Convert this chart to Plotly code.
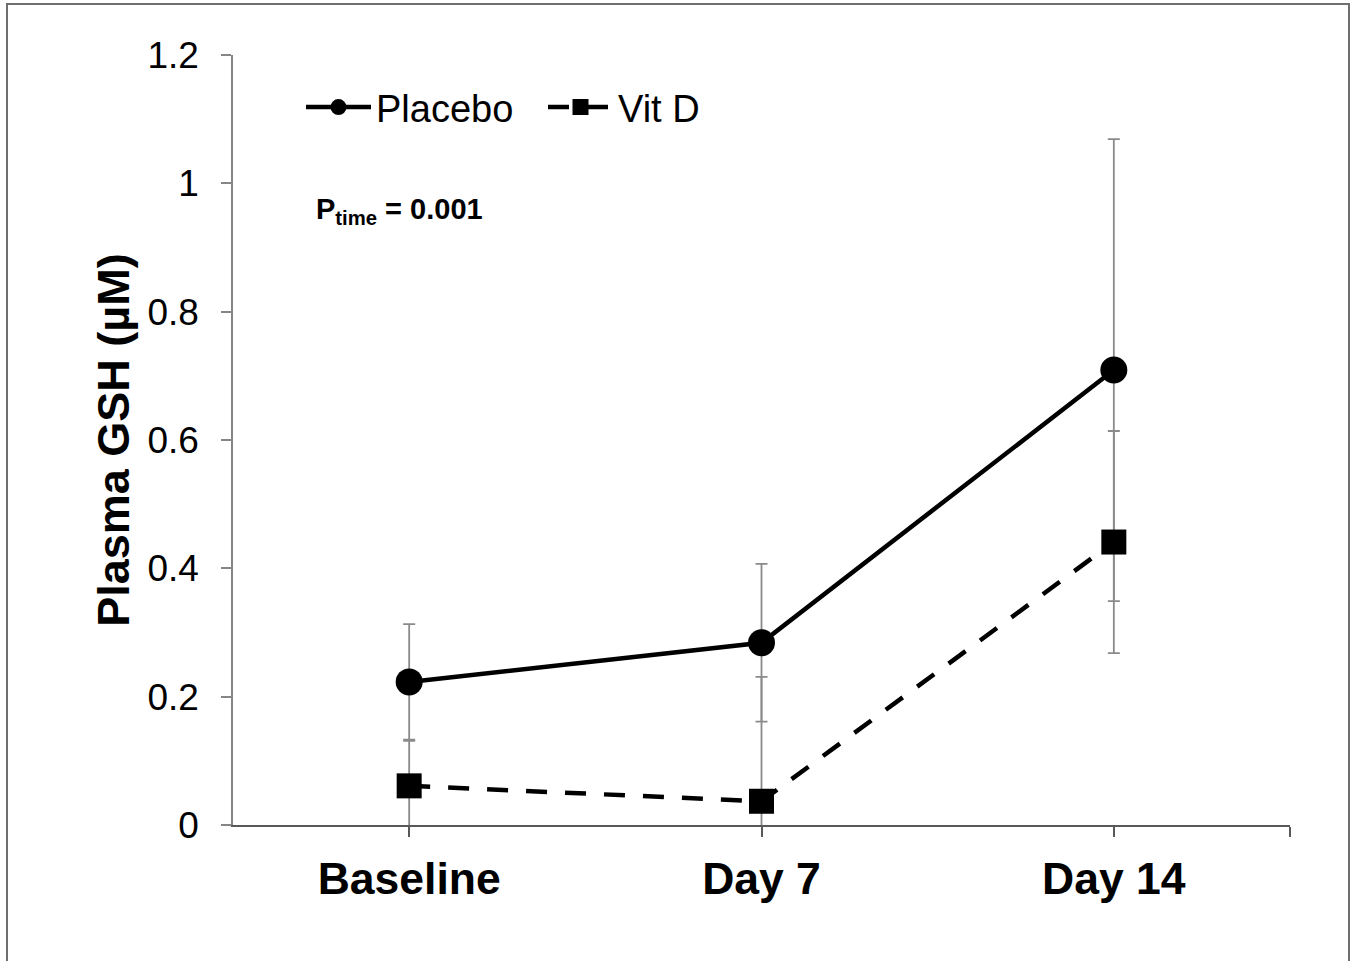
import plotly.graph_objects as go

# ---- data ----
categories = ["Baseline", "Day 7", "Day 14"]
placebo_mean = [0.223, 0.284, 0.709]
placebo_err = [0.090, 0.123, 0.360]
vitd_mean = [0.061, 0.037, 0.441]
vitd_err = [0.070, 0.194, 0.173]
y_tickvals = [0, 0.2, 0.4, 0.6, 0.8, 1.0, 1.2]
y_ticktext = ["0", "0.2", "0.4", "0.6", "0.8", "1", "1.2"]

x_pos = list(range(len(categories)))
FONT = "Liberation Sans, Arial, sans-serif"
ERR_COLOR = "#8a8a8a"

fig = go.Figure()

fig.add_trace(go.Scatter(
    x=x_pos, y=placebo_mean, name="Placebo", mode="lines+markers",
    line=dict(color="black", width=4.5),
    marker=dict(symbol="circle", size=27, color="black"),
    error_y=dict(type="data", array=placebo_err, visible=True,
                 color=ERR_COLOR, thickness=1.8, width=6),
))
fig.add_trace(go.Scatter(
    x=x_pos, y=vitd_mean, name="Vit D", mode="lines+markers",
    line=dict(color="black", width=4.5, dash="21px,18px"),
    marker=dict(symbol="square", size=25, color="black"),
    error_y=dict(type="data", array=vitd_err, visible=True,
                 color=ERR_COLOR, thickness=1.8, width=6),
))

L, R, T, B = 233, 1290, 55, 825
W, H = 1357, 961

fig.update_layout(
    width=W, height=H,
    margin=dict(l=L, r=W - R, t=T, b=H - B, pad=0),
    paper_bgcolor="white", plot_bgcolor="white",
    font=dict(family=FONT, color="black"),
    showlegend=True,
    legend=dict(
        orientation="h", x=(301 - L) / (R - L), y=0.932,
        xanchor="left", yanchor="middle",
        font=dict(size=38, family=FONT, color="black"),
        bgcolor="rgba(0,0,0,0)", itemwidth=65, tracegroupgap=0,
        entrywidth=162, entrywidthmode="pixels",
    ),
    xaxis=dict(
        range=[-0.5, 2.5],
        tickmode="array",
        tickvals=x_pos,
        ticktext=categories,
        tickfont=dict(size=44.5, family=FONT, color="black", weight="bold"),
        ticks="outside", ticklen=10, tickwidth=2, tickcolor="#595959",
        minor=dict(tickvals=[2.5], ticks="outside", ticklen=10,
                   tickwidth=2, tickcolor="#595959", showgrid=False),
        showline=True, linecolor="#595959", linewidth=2,
        showgrid=False, zeroline=False,
        ticklabelstandoff=4,
    ),
    yaxis=dict(
        range=[0, 1.2],
        tickmode="array", tickvals=y_tickvals, ticktext=y_ticktext,
        tickfont=dict(size=37, family=FONT, color="black"),
        ticks="outside", ticklen=10, tickwidth=1.5, tickcolor="#868686",
        showline=True, linecolor="#868686", linewidth=1.5,
        showgrid=False, zeroline=False,
        ticklabelstandoff=15,
        title=dict(text="<b>Plasma GSH (µM)</b>",
                   font=dict(size=45, family=FONT, color="black"),
                   standoff=4),
    ),
)

fig.add_annotation(
    xref="paper", yref="paper", x=(314 - L) / (R - L), y=(B - 211) / (B - T),
    xanchor="left", yanchor="middle", showarrow=False,
    text="<b>P<sub>time</sub> = 0.001</b>",
    font=dict(size=29, family=FONT, color="black"),
)

# outer frame
fig.add_shape(
    type="rect", xref="paper", yref="paper",
    x0=(7 - L) / (R - L), x1=(1349 - L) / (R - L),
    y0=(B - 980) / (B - T), y1=(B - 4) / (B - T),
    line=dict(color="#6e6e6e", width=2), layer="below",
)

fig.write_html(
    "out.html",
    config={"displayModeBar": False},
    post_script="document.body.style.margin='0';document.body.style.overflow='hidden';",
)
